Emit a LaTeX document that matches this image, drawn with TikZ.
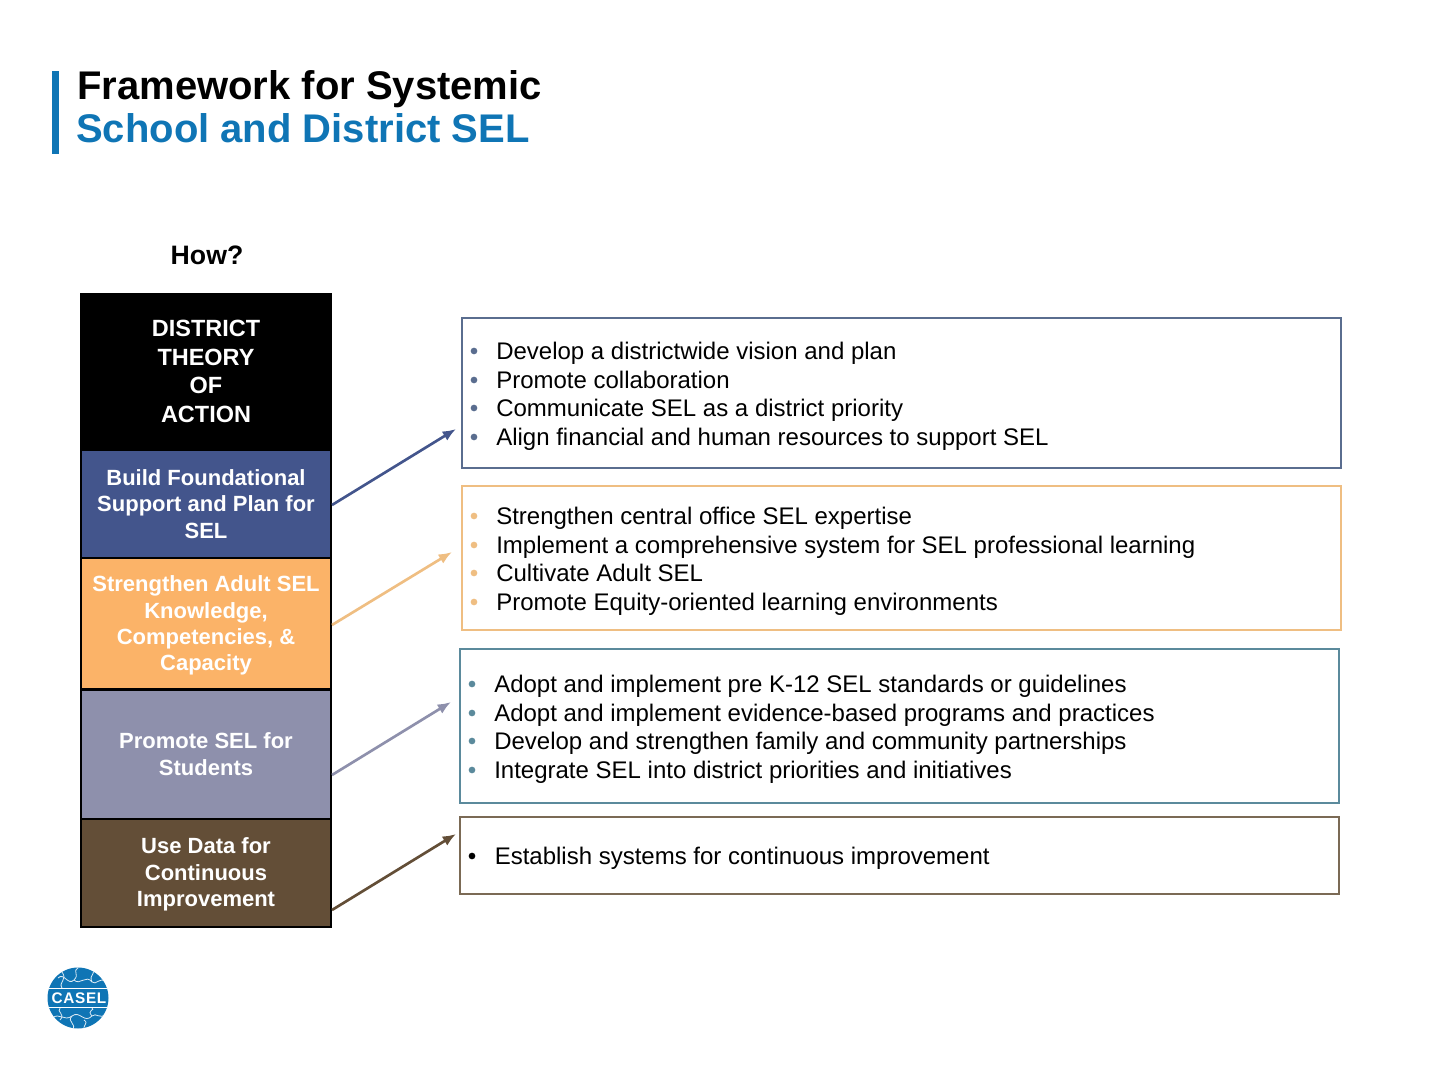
\documentclass[tikz,border=0pt]{standalone}
\usepackage{fontspec}
\setmainfont{Liberation Sans}
\usetikzlibrary{arrows.meta}
\definecolor{casblue}{HTML}{0F75B5}
\definecolor{cnavy}{HTML}{43558C}
\definecolor{corange}{HTML}{FBB368}
\definecolor{cgrey}{HTML}{8E90AC}
\definecolor{cbrown}{HTML}{634E37}
\definecolor{lnavy}{HTML}{5A6D8F}
\definecolor{lorange}{HTML}{EFBE82}
\definecolor{lteal}{HTML}{5B8A9C}
\definecolor{lbrown}{HTML}{7B6A55}
\newcommand\tstr{\rule{0pt}{17pt}}
\tikzset{
 px/.style={x=0.75pt,y=-0.75pt},
 stack/.style={draw=black,line width=1.5pt,minimum width=187.5pt,inner sep=0pt,text=white,align=center,anchor=north west,font=\bfseries\fontsize{16.5}{19.8}\selectfont},
 listbox/.style={draw,line width=1.5pt,fill=white,anchor=north west,inner sep=0pt},
 listtext/.style={anchor=base west,inner sep=0pt,font=\fontsize{18}{21.5}\selectfont,align=left},
 link/.style={line width=2pt,-{Latex[length=10pt,width=8pt]}},
 bul/.style={circle,inner sep=0pt,minimum size=5pt},
 puzzle/.style={white!85!casblue,line width=0.6pt}
}
\begin{document}
\begin{tikzpicture}[px]
\useasboundingbox (0,0) rectangle (1440,1080);
% title
\fill[casblue] (52,71) rectangle (59,154);
\node[anchor=base west,inner sep=0pt,font=\bfseries\fontsize{30}{32}\selectfont] (t1) at (77,99.5) {Framework for Systemic};
\node[anchor=base west,inner sep=0pt,text=casblue,font=\bfseries\fontsize{30}{32}\selectfont] (t2) at (76,143) {School and District SEL};
\node[font=\bfseries\fontsize{20}{24}\selectfont,inner sep=0pt] (how) at (207,255) {How?};
% stack
\node[stack,fill=black,minimum height=117pt,font=\bfseries\fontsize{17.6}{19.8}\selectfont] (s0) at (80,293) {\tstr DISTRICT\\[1.7pt]THEORY\\[1.7pt]OF\\[1.7pt]ACTION\strut};
\node[stack,fill=cnavy,minimum height=81pt] (s1) at (80,449.5) {\tstr Build Foundational\\Support and Plan for\\SEL\strut};
\node[stack,fill=corange,minimum height=98pt] (s2) at (80,557.5) {\tstr Strengthen Adult SEL\\Knowledge,\\Competencies, \&\\Capacity\strut};
\node[stack,fill=cgrey,minimum height=97.5pt] (s3) at (80,688.5) {\tstr Promote SEL for\\Students\strut};
\node[stack,fill=cbrown,minimum height=81pt] (s4) at (80,818) {\tstr Use Data for\\Continuous\\Improvement\strut};
% boxes
\node[listbox,draw=lnavy,minimum width=659pt,minimum height=112pt] (b1) at (461,317.5) {};
\node[listbox,draw=lorange,minimum width=659pt,minimum height=108pt] (b2) at (461,485.5) {};
\node[listbox,draw=lteal,minimum width=659pt,minimum height=116pt] (b3) at (459,647.5) {};
\node[listbox,draw=lbrown,minimum width=659pt,minimum height=58pt] (b4) at (459,815.5) {};
% bullets & text
\foreach \y/\c/\t in {351/lnavy/Develop a districtwide vision and plan,380/lnavy/Promote collaboration,408/lnavy/Communicate SEL as a district priority,437/lnavy/Align financial and human resources to support SEL,
516/lorange/Strengthen central office SEL expertise,545/lorange/Implement a comprehensive system for SEL professional learning,573/lorange/Cultivate Adult SEL,602/lorange/Promote Equity-oriented learning environments}{
 \node[bul,fill=\c] at (474,\y) {};
 \node[listtext] at (496,\y+8.6) {\t};
}
\foreach \y/\c/\t in {684/lteal/Adopt and implement pre K-12 SEL standards or guidelines,713/lteal/Adopt and implement evidence-based programs and practices,741/lteal/Develop and strengthen family and community partnerships,770/lteal/Integrate SEL into district priorities and initiatives}{
 \node[bul,fill=\c] at (472,\y) {};
 \node[listtext] at (494,\y+8.6) {\t};
}
\node[bul,fill=black] at (472,856) {};
\node[listtext] at (494.5,864.6) {Establish systems for continuous improvement};
% connectors
\coordinate (e1) at (456,429);
\coordinate (e2) at (452,552);
\coordinate (e3) at (451,702);
\coordinate (e4) at (456,834);
\coordinate (f1) at (332,505);
\coordinate (f2) at (332,625);
\coordinate (f3) at (332,775);
\coordinate (f4) at (332,910);
\draw[link,color=cnavy] (f1) -- (e1);
\draw[link,color=lorange] (f2) -- (e2);
\draw[link,color=cgrey] (f3) -- (e3);
\draw[link,color=cbrown] (f4) -- (e4);
% logo
\fill[casblue] (78,998) circle[radius=30.5];
\begin{scope}
\clip (78,998) circle[radius=30.5];
\fill[white] (40,987.5) rectangle (120,989);
\fill[white] (40,1006.5) rectangle (120,1008);
\draw[puzzle] (58,978) .. controls (64,972) and (68,986) .. (74,980) .. controls (80,974) and (72,972) .. (78,968);
\draw[puzzle] (74,980) .. controls (80,986) and (86,974) .. (92,982) .. controls (96,986) and (100,976) .. (106,982);
\draw[puzzle] (92,982) .. controls (88,974) and (98,974) .. (92,966);
\draw[puzzle] (62,988) .. controls (58,982) and (68,980) .. (62,972);
\draw[puzzle] (52,1018) .. controls (60,1012) and (64,1022) .. (72,1016) .. controls (80,1010) and (84,1024) .. (92,1016) .. controls (96,1012) and (100,1020) .. (106,1014);
\draw[puzzle] (72,1016) .. controls (66,1022) and (78,1024) .. (72,1030);
\draw[puzzle] (92,1016) .. controls (86,1010) and (96,1010) .. (92,1008);
\draw[puzzle] (60,1008) .. controls (56,1012) and (66,1014) .. (60,1020);
\draw[puzzle] (84,1020) .. controls (90,1024) and (80,1026) .. (86,1030);
\end{scope}
\node[text=white,inner sep=0pt,font=\bfseries\fontsize{11.5}{12}\selectfont] (logo) at (79,998) {C\kern0.5pt A\kern0.5pt S\kern0.5pt E\kern0.5pt L};
\end{tikzpicture}
\end{document}
